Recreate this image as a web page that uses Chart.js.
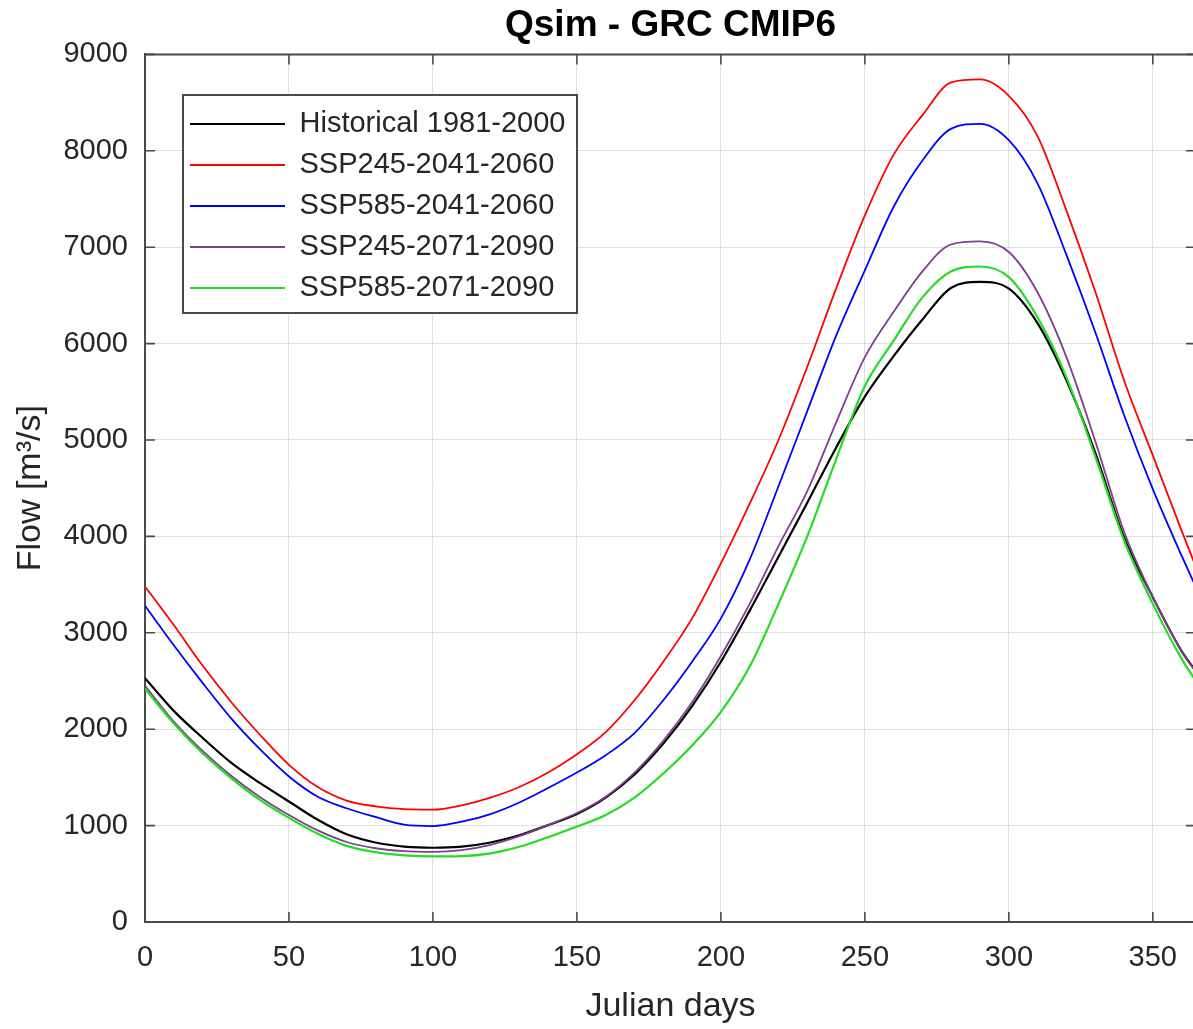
<!DOCTYPE html>
<html>
<head>
<meta charset="utf-8">
<script src="https://cdn.jsdelivr.net/npm/chart.js"></script>
<style>
  html, body { margin: 0; padding: 0; overflow: hidden; background: #fff; }
  #wrap { width: 1200px; height: 1029px; }
</style>
</head>
<body>
<div id="wrap"><canvas id="c" width="1200" height="1029"></canvas></div>
<script>
// ---- data ----
const days = [0,10,20,30,40,50,60,70,80,90,100,110,120,130,140,150,160,170,180,190,200,210,220,230,240,250,260,270,280,290,300,310,320,330,340,350,360,365];

const historical = [2530,2190,1910,1650,1440,1250,1060,910,825,782,770,782,825,900,1005,1120,1290,1530,1850,2240,2700,3230,3790,4350,4920,5450,5870,6250,6580,6640,6570,6210,5620,4870,3990,3370,2810,2600];
const ssp245_2041 = [3480,3080,2660,2280,1940,1630,1400,1260,1200,1170,1165,1210,1290,1400,1550,1740,1970,2300,2700,3150,3720,4340,5000,5760,6570,7330,7960,8370,8710,8740,8570,8150,7380,6540,5620,4840,4060,3680];
const ssp585_2041 = [3280,2870,2480,2110,1790,1510,1300,1180,1090,1010,995,1040,1120,1240,1390,1550,1730,1960,2300,2700,3150,3760,4520,5300,6080,6760,7420,7900,8230,8280,8110,7660,6920,6120,5260,4490,3800,3470];
const ssp245_2071 = [2450,2080,1775,1515,1295,1110,950,830,765,735,728,745,800,890,1005,1130,1300,1550,1880,2280,2760,3300,3900,4470,5180,5860,6330,6750,7030,7060,6950,6530,5860,4990,4050,3370,2810,2590];
const ssp585_2071 = [2420,2060,1750,1490,1265,1080,915,790,725,692,680,683,712,780,880,990,1110,1290,1540,1830,2180,2650,3300,4000,4800,5560,6030,6480,6750,6800,6690,6270,5650,4830,3960,3300,2730,2500];

const seriesLabels = ['Historical 1981-2000','SSP245-2041-2060','SSP585-2041-2060','SSP245-2071-2090','SSP585-2071-2090'];
const seriesValues = [historical, ssp245_2041, ssp585_2041, ssp245_2071, ssp585_2071];
const seriesColors = ['#000000','#ff0000','#0000ff','#7e3f8e','#22dd22'];
const seriesWidths = [2.2, 1.8, 1.8, 1.8, 2.2];
const seriesOrder  = [4, 3, 2, 1, 0];

const xTickStep = 50, yTickStep = 1000;
const chartTitle = 'Qsim - GRC CMIP6';
const xTitle = 'Julian days';
const yTitle = 'Flow [m³/s]';

// ---- chart ----
const F = '"Liberation Sans", Arial, Helvetica, sans-serif';
const TXT = '#262626';
const AXIS = '#4a4a4a';

const datasets = seriesValues.map((vals, i) => ({
  label: seriesLabels[i],
  data: days.map((d, k) => ({x: d, y: vals[k]})),
  borderColor: seriesColors[i],
  backgroundColor: seriesColors[i],
  borderWidth: seriesWidths[i],
  pointRadius: 0,
  cubicInterpolationMode: 'monotone',
  fill: false,
  order: seriesOrder[i]
}));

const LEG_LEFT = 178, LEG_TOP = 97.5;

const boxPlugin = {
  id: 'matlabBox',
  afterLayout(chart) {
    const l = chart.legend;
    if (!l) return;
    l.left = LEG_LEFT; l.top = LEG_TOP;
    l.right = LEG_LEFT + 420; l.bottom = LEG_TOP + 232;
  },
  afterDatasetsDraw(chart) {
    const {ctx, chartArea: a, scales} = chart;
    const x = scales.x, y = scales.y;
    ctx.save();
    ctx.strokeStyle = AXIS;
    ctx.lineWidth = 2;
    ctx.beginPath();
    ctx.moveTo(a.left, a.top); ctx.lineTo(a.right, a.top); ctx.lineTo(a.right, a.bottom);
    ctx.stroke();
    const tl = 10;
    ctx.lineWidth = 1.6;
    ctx.beginPath();
    x.ticks.forEach(t => {
      const px = x.getPixelForValue(t.value);
      ctx.moveTo(px, a.bottom); ctx.lineTo(px, a.bottom - tl);
      ctx.moveTo(px, a.top); ctx.lineTo(px, a.top + tl);
    });
    y.ticks.forEach(t => {
      const py = y.getPixelForValue(t.value);
      ctx.moveTo(a.left, py); ctx.lineTo(a.left + tl, py);
      ctx.moveTo(a.right, py); ctx.lineTo(a.right - tl, py);
    });
    ctx.stroke();
    const l = chart.legend;
    if (l) {
      const bx = l.left + 5, by = l.top - 2.5, bw = 394, bh = 218;
      ctx.fillStyle = '#ffffff';
      ctx.fillRect(bx, by, bw, bh);
      ctx.strokeStyle = '#4a4a4a';
      ctx.lineWidth = 2;
      ctx.strokeRect(bx, by, bw, bh);
      ctx.restore();
      l.draw(chart.chartArea);
      return;
    }
    ctx.restore();
  }
};

new Chart(document.getElementById('c'), {
  type: 'line',
  data: { datasets },
  options: {
    responsive: false,
    animation: false,
    devicePixelRatio: 1,
    layout: { padding: { left: 0, right: 4, top: 0, bottom: 0 } },
    plugins: {
      title: {
        display: true, text: chartTitle, fullSize: false, color: '#000',
        font: { family: F, size: 37, weight: 'bold' },
        padding: { top: 4, bottom: 6 }
      },
      legend: {
        display: true, position: 'chartArea', align: 'start',
        labels: {
          font: { family: F, size: 29 }, color: TXT,
          usePointStyle: true, pointStyle: 'line', pointStyleWidth: 95,
          boxHeight: 29, padding: 12,
          sort: (a, b) => a.datasetIndex - b.datasetIndex
        }
      },
      tooltip: { enabled: false }
    },
    scales: {
      x: {
        type: 'linear', min: 0, max: 365,
        ticks: { stepSize: xTickStep, includeBounds: false, padding: 19, color: TXT, font: { family: F, size: 29 }, maxRotation: 0, callback: v => String(v) },
        grid: { color: 'rgba(0,0,0,0.12)', lineWidth: 1, drawTicks: false },
        border: { color: AXIS, width: 2 },
        title: { display: true, text: xTitle, color: TXT, font: { family: F, size: 34 }, padding: { top: 0, bottom: 2 } },
        afterFit(s) { s.height = 107; }
      },
      y: {
        type: 'linear', min: 0, max: 9000,
        ticks: { stepSize: yTickStep, padding: 17, color: TXT, font: { family: F, size: 29 }, callback: v => String(v) },
        grid: { color: 'rgba(0,0,0,0.12)', lineWidth: 1, drawTicks: false },
        border: { color: AXIS, width: 2 },
        title: { display: true, text: yTitle, color: TXT, font: { family: F, size: 34 }, padding: { top: 10, bottom: 0 } },
        afterFit(s) { s.width = 145; }
      }
    }
  },
  plugins: [boxPlugin]
});
</script>
</body>
</html>
